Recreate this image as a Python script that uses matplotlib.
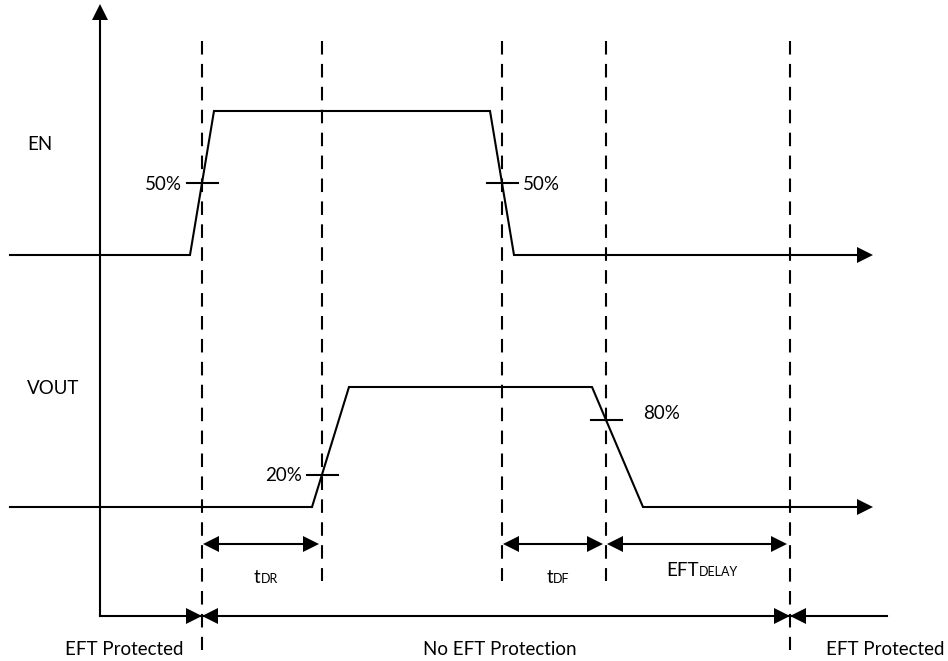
import numpy as np
import matplotlib.pyplot as plt

# timing diagram for EN / VOUT with the EFT protection window
# everything is in pixel units of the 948x661 picture (y grows downward)

t_marks = [202, 322, 502, 606, 790]          # dashed guide lines
t_marks_short = [322, 502, 606]              # these stop at the dimension row

en_t = [10, 190, 214, 490, 514, 857]
en_level = [0, 0, 1, 1, 0, 0]
vout_t = [10, 312, 349, 592, 643, 857]
vout_level = [0, 0, 1, 1, 0, 0]

en_base, en_high = 255, 111
vout_base, vout_high = 507, 387

# level ticks: (guide index, label, side)
en_ticks = [(0, '50%', 'left'), (2, '50%', 'right')]
vout_ticks = [(1, '20%', 'left'), (3, '80%', 'far')]

# dimension arrows between guides
dims = [(0, 1, 't', 'DR'), (2, 3, 't', 'DF'), (3, 4, 'EFT', 'DELAY')]
zones = ['EFT Protected', 'No EFT Protection', 'EFT Protected']

plt.rcParams['font.family'] = ['Lato', 'DejaVu Sans']
LW = 1.5
FS = 13.5

fig = plt.figure(figsize=(9.48, 6.61), dpi=100)
ax = fig.add_axes([0, 0, 1, 1])
ax.set_xlim(0, 948)
ax.set_ylim(661, 0)
ax.axis('off')


def head(x, y, d, L=16, W=8):
    # filled triangle, tip at (x, y), pointing in direction d
    if d == 'r':
        pts = [(x, y), (x - L, y - W), (x - L, y + W)]
    elif d == 'l':
        pts = [(x, y), (x + L, y - W), (x + L, y + W)]
    else:
        pts = [(x, y), (x - W, y + L), (x + W, y + L)]
    ax.fill([p[0] for p in pts], [p[1] for p in pts], color='black', lw=0)


# vertical axis
ax.plot([100, 100], [616, 18], color='black', lw=LW)
head(100, 4, 'u')

# dashed guides
for x in t_marks:
    y_end = 581 if x in t_marks_short else 650
    ax.plot([x, x], [41, y_end], color='black', lw=LW, ls=(0, (6.5, 4.5)))

# waveforms + time axes
for t, lev, base, high, ticks, name, name_y in [
        (en_t, en_level, en_base, en_high, en_ticks, 'EN', 145),
        (vout_t, vout_level, vout_base, vout_high, vout_ticks, 'VOUT', 388)]:
    y = base - np.array(lev) * (base - high)
    ax.plot(t, y, color='black', lw=LW, solid_joinstyle='miter')
    head(873, base, 'r')
    ax.text(27, name_y, name, fontsize=FS, va='center', ha='left')
    for i, lab, side in ticks:
        x = t_marks[i]
        # height where the sloped edge passes the guide
        for k in range(len(t) - 1):
            if t[k] <= x <= t[k + 1] and y[k] != y[k + 1]:
                yc = y[k] + (x - t[k]) / (t[k + 1] - t[k]) * (y[k + 1] - y[k])
        ax.plot([x - 15, x + 16], [yc, yc], color='black', lw=LW)
        if side == 'left':
            ax.text(x - 20, yc + 1, lab, fontsize=FS, ha='right', va='center')
        elif side == 'right':
            ax.text(x + 21, yc + 1, lab, fontsize=FS, ha='left', va='center')
        else:
            ax.text(x + 37, yc - 6, lab, fontsize=FS, ha='left', va='center')

renderer = fig.canvas.get_renderer()

# dimension arrows
for a, b, main, sub in dims:
    x0, x1 = t_marks[a] + 1, t_marks[b] - 3
    ax.plot([x0 + 10, x1 - 10], [544, 544], color='black', lw=LW)
    head(x0, 544, 'l')
    head(x1, 544, 'r')
    tx = ax.text(0, 583 if main == 't' else 576, main,
                 fontsize=FS, ha='left', va='baseline')
    sb = ax.annotate(sub, xy=(1, 0), xycoords=tx, fontsize=9,
                     ha='left', va='bottom', xytext=(0, 0.5),
                     textcoords='offset points')
    w = tx.get_window_extent(renderer).width + sb.get_window_extent(renderer).width
    tx.set_x((x0 + x1) / 2 + 5 - w / 2)

# bottom protection line
ax.plot([100, 887], [616, 616], color='black', lw=LW)
for x in (t_marks[0], t_marks[4]):
    head(x, 616, 'r')
    head(x, 616, 'l')
ax.text(124, 655, zones[0], fontsize=FS, ha='center', va='baseline')
ax.text(500, 655, zones[1], fontsize=FS, ha='center', va='baseline')
ax.text(885, 655, zones[2], fontsize=FS, ha='center', va='baseline')

fig.savefig('out.png', dpi=100)
